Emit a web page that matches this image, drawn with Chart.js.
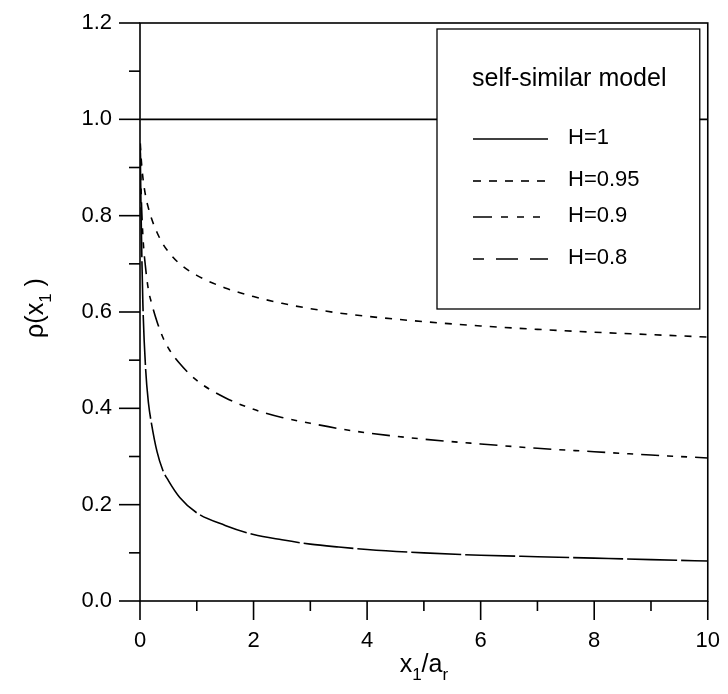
<!DOCTYPE html>
<html><head><meta charset="utf-8">
<script src="https://cdn.jsdelivr.net/npm/chart.js@4/dist/chart.umd.min.js"></script>
<style>html,body{margin:0;padding:0;background:#fff}#wrap{width:728px;height:694px}</style>
</head><body><div id="wrap"><canvas id="c" width="728" height="694"></canvas></div>
<script>
// ---- data ----
const xValues  = [0.005,0.02,0.05,0.1,0.15,0.2,0.3,0.4,0.5,0.7,1,1.5,2,2.5,3,3.5,4,5,6,7,8,9,10];
const rhoH1    = [1,1,1,1,1,1,1,1,1,1,1,1,1,1,1,1,1,1,1,1,1,1,1];
const rhoH095  = [0.95,0.92,0.88,0.84,0.815,0.795,0.765,0.742,0.725,0.70,0.676,0.65,0.632,0.618,0.607,0.598,0.591,0.58,0.571,0.564,0.558,0.553,0.548];
const rhoH09   = [0.94,0.85,0.76,0.69,0.645,0.62,0.58,0.548,0.525,0.493,0.458,0.422,0.398,0.381,0.369,0.358,0.349,0.336,0.326,0.317,0.31,0.303,0.297];
const rhoH08   = [0.93,0.80,0.62,0.48,0.41,0.37,0.31,0.272,0.25,0.215,0.183,0.157,0.138,0.127,0.118,0.112,0.107,0.100,0.095,0.092,0.089,0.086,0.083];
const seriesLabels = ['H=1','H=0.95','H=0.9','H=0.8'];
const xTickLabels  = ['0','2','4','6','8','10'];
const yTickLabels  = ['0.0','0.2','0.4','0.6','0.8','1.0','1.2'];
const legendTitle  = 'self-similar model';
// axis titles: [text, isSubscript]
const xTitleParts = [['x',0],['1',1],['/a',0],['r',1]];
const yTitleParts = [['\u03C1(x',0],['1',1],[' )',0]];

// ---- styles ----
const FONT = "'Liberation Sans', Arial, sans-serif";
const plotDash   = [[], [7,8], [18,8,6,8,6,8], [50,4]];
const legendDash = [[], [8,8], [19,9,7,9,7,9,7,9], [22,12]];
const legendDashOffset = [0,0,0,11];

const seriesValues = [rhoH1, rhoH095, rhoH09, rhoH08];
const datasets = seriesValues.map((arr, i) => ({
  label: seriesLabels[i],
  data: xValues.map((x, k) => ({x: x, y: arr[k]})),
  borderColor: '#000',
  borderWidth: 1.6,
  borderDash: plotDash[i],
  pointRadius: 0,
  showLine: true,
  fill: false,
  cubicInterpolationMode: 'monotone'
}));

function drawParts(ctx, parts, cx, baseY, size) {
  const subSize = Math.round(size * 0.68);
  let w = 0;
  parts.forEach(([t, s]) => { ctx.font = (s ? subSize : size) + 'px ' + FONT; w += ctx.measureText(t).width; });
  let x = cx - w / 2;
  ctx.textAlign = 'left';
  ctx.textBaseline = 'alphabetic';
  parts.forEach(([t, s]) => {
    ctx.font = (s ? subSize : size) + 'px ' + FONT;
    ctx.fillText(t, x, baseY + (s ? size * 0.3 : 0));
    x += ctx.measureText(t).width;
  });
}

const framePlugin = {
  id: 'frame',
  afterDatasetsDraw(chart) {
    const ctx = chart.ctx, a = chart.chartArea;
    // legend box
    const L = a.left + 297, T = a.top + 6, R = a.right - 8, B = a.top + 286;
    ctx.save();
    ctx.fillStyle = '#fff';
    ctx.fillRect(L, T, R - L, B - T);
    ctx.strokeStyle = '#000';
    ctx.lineWidth = 1.3;
    ctx.strokeRect(L, T, R - L, B - T);
    ctx.fillStyle = '#000';
    ctx.textBaseline = 'middle';
    ctx.textAlign = 'left';
    ctx.font = '25px ' + FONT;
    ctx.fillText(legendTitle, L + 35, T + 50);
    const rowY = [110, 152, 188, 230];
    ctx.font = '22px ' + FONT;
    seriesLabels.forEach((lab, i) => {
      const y = T + rowY[i];
      ctx.beginPath();
      ctx.setLineDash(legendDash[i]);
      ctx.lineDashOffset = legendDashOffset[i];
      ctx.lineWidth = 1.6;
      ctx.moveTo(L + 36, y);
      ctx.lineTo(L + 111, y);
      ctx.stroke();
      ctx.setLineDash([]);
      ctx.lineDashOffset = 0;
      ctx.fillText(lab, L + 131, y - 1);
    });
    ctx.restore();
  },
  afterDraw(chart) {
    const ctx = chart.ctx, a = chart.chartArea;
    ctx.save();
    ctx.strokeStyle = '#000';
    ctx.lineWidth = 1.6;
    ctx.setLineDash([]);
    ctx.strokeRect(a.left, a.top, a.right - a.left, a.bottom - a.top);
    const xs = chart.scales.x, ys = chart.scales.y;
    xs.ticks.forEach(t => {
      const p = xs.getPixelForValue(t.value);
      const major = Math.round(t.value) % 2 === 0;
      ctx.beginPath(); ctx.moveTo(p, a.bottom); ctx.lineTo(p, a.bottom + (major ? 19 : 10)); ctx.stroke();
    });
    ys.ticks.forEach(t => {
      const p = ys.getPixelForValue(t.value);
      const major = Math.round(t.value * 10) % 2 === 0;
      ctx.beginPath(); ctx.moveTo(a.left, p); ctx.lineTo(a.left - (major ? 21 : 11), p); ctx.stroke();
    });
    // axis titles
    ctx.fillStyle = '#000';
    drawParts(ctx, xTitleParts, (a.left + a.right) / 2, 672, 25);
    ctx.translate(43, (a.top + a.bottom) / 2 - 4);
    ctx.rotate(-Math.PI / 2);
    drawParts(ctx, yTitleParts, 0, 0, 25);
    ctx.restore();
  }
};

new Chart(document.getElementById('c'), {
  type: 'scatter',
  data: { datasets },
  options: {
    responsive: false,
    animation: false,
    devicePixelRatio: 1,
    layout: { padding: { top: 23, right: 16, left: 0, bottom: 0 } },
    plugins: { legend: { display: false }, tooltip: { enabled: false } },
    scales: {
      x: {
        type: 'linear', min: 0, max: 10,
        afterFit(s) { s.height = 93; },
        ticks: {
          stepSize: 1, padding: 8, color: '#000', maxRotation: 0, autoSkip: false,
          font: { family: FONT, size: 22 },
          callback: v => (Math.round(v) % 2 === 0 ? xTickLabels[Math.round(v) / 2] : '')
        },
        grid: { drawOnChartArea: false, tickLength: 19, tickColor: 'rgba(0,0,0,0)' },
        border: { display: false },
        title: { display: false }
      },
      y: {
        type: 'linear', min: 0, max: 1.2,
        afterFit(s) { s.width = 140; },
        ticks: {
          stepSize: 0.1, padding: 7, color: '#000', autoSkip: false,
          font: { family: FONT, size: 22 },
          callback: v => { const k = Math.round(v * 10); return k % 2 === 0 ? yTickLabels[k / 2] : ''; }
        },
        grid: { drawOnChartArea: false, tickLength: 21, tickColor: 'rgba(0,0,0,0)' },
        border: { display: false },
        title: { display: false }
      }
    }
  },
  plugins: [framePlugin]
});
</script>
</body></html>
